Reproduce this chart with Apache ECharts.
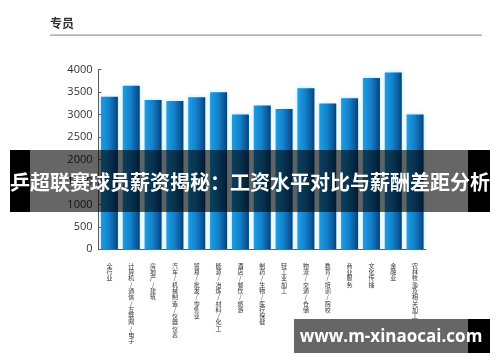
<!DOCTYPE html>
<html>
<head>
<meta charset="utf-8">
<script src="https://cdn.jsdelivr.net/npm/echarts@6/dist/echarts.min.js"></script>
<style>
html,body{margin:0;padding:0;background:#fff;}
#c{width:500px;height:362px;}
</style>
</head>
<body>
<div id="c"></div>
<script>
var categories = ['全行业','计算机/通信/互联网/电子','房地产/建筑','汽车/机械制造/仪器仪表','贸易/批发/零售业','能源/冶炼/材料/化工','酒店/餐饮/旅游','制药/生物/医疗保健','轻工业加工','物流/交通/仓储','教育/培训/院校','商业服务','文化传播','金融业','农林牧渔及相关加工'];
var salaries = [3400, 3640, 3325, 3305, 3385, 3500, 3005, 3200, 3125, 3585, 3245, 3365, 3815, 3940, 3005];
var yTicks = [0, 500, 1000, 1500, 2000, 2500, 3000, 3500, 4000];
var panelTitle = '专员';
var bannerText = '乒超联赛球员薪资揭秘：工资水平对比与薪酬差距分析';
var watermark = 'www.m-xinaocai.com';

var chart = echarts.init(document.getElementById('c'), null, {renderer:'canvas'});
var cjk = '"Noto Sans CJK SC", "Noto Sans", sans-serif';
chart.setOption({
  animation: false,
  backgroundColor: '#fff',
  grid: {left: 98.5, right: 74, top: 69.7, bottom: 112.7, containLabel: false},
  xAxis: {
    type: 'category',
    data: categories,
    axisLine: {lineStyle: {color: '#555', width: 1}},
    axisTick: {inside: true, length: 3, lineStyle: {color: '#555'}},
    axisLabel: {
      interval: 0, margin: 13, fontSize: 6, lineHeight: 6.3, color: '#333',
      fontFamily: cjk, verticalAlign: 'top',
      formatter: function(v){ return v.split('').join('\n'); }
    }
  },
  yAxis: {
    type: 'value',
    min: yTicks[0], max: yTicks[yTicks.length-1], interval: 500,
    axisLine: {show: true, lineStyle: {color: '#555', width: 1}},
    axisTick: {show: true, inside: true, length: 3, lineStyle: {color: '#555'}},
    splitLine: {show: false},
    axisLabel: {margin: 6, fontSize: 11, color: '#333', fontFamily: '"Open Sans", sans-serif',
      formatter: function(v){ return String(v); }}
  },
  series: [{
    type: 'bar',
    data: salaries,
    barWidth: 17,
    itemStyle: {
      color: new echarts.graphic.LinearGradient(0, 0, 1, 0, [
        {offset: 0, color: '#1c9ee4'},
        {offset: 0.45, color: '#1482cc'},
        {offset: 0.85, color: '#0b5597'},
        {offset: 1, color: '#083e73'}
      ]),
      shadowColor: 'rgba(110,215,255,0.55)', shadowBlur: 4
    }
  }],
  graphic: [
    {type: 'text', left: 50, top: 17, z: 10, style: {text: panelTitle, font: 'bold 12px ' + cjk, fill: '#333'}},
    {type: 'rect', shape: {x: 50, y: 34.5, width: 432, height: 1.2}, z: 10, style: {fill: '#9a9a9a'}},
    {type: 'rect', shape: {x: 10, y: 150, width: 20, height: 62}, z: 100, style: {fill: '#000'}},
    {type: 'rect', shape: {x: 468, y: 150, width: 22, height: 62}, z: 100, style: {fill: '#000'}},
    {type: 'rect', shape: {x: 30, y: 150, width: 438, height: 62}, z: 100, style: {fill: 'rgba(0,0,0,0.6)'}},
    {type: 'text', x: 250, y: 182, z: 101, style: {text: bannerText, font: 'bold 20px ' + cjk, fill: '#fff', align: 'center', verticalAlign: 'middle'}},
    {type: 'rect', shape: {x: 294, y: 319, width: 174, height: 34}, z: 100, style: {fill: '#666'}},
    {type: 'rect', shape: {x: 468, y: 319, width: 22, height: 34}, z: 100, style: {fill: '#000'}},
    {type: 'text', x: 391, y: 337, z: 101, style: {text: watermark, font: 'bold 17px "Open Sans", "DejaVu Sans", sans-serif', fill: '#fff', align: 'center', verticalAlign: 'middle'}}
  ]
});
</script>
</body>
</html>
